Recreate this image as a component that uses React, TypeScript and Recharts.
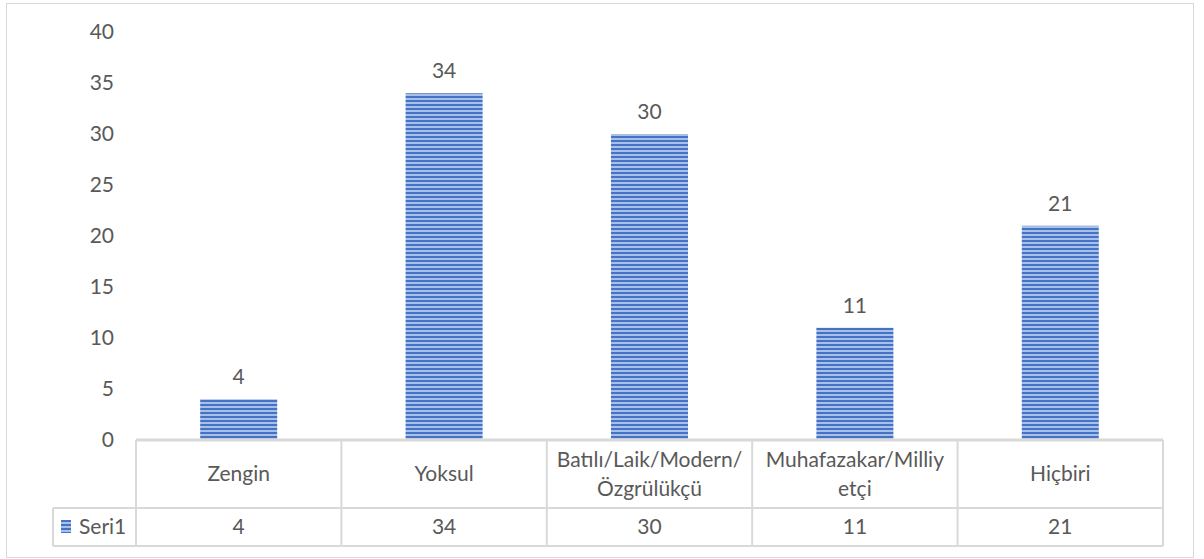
import { Bar, BarChart, LabelList, XAxis, YAxis } from "recharts";

const categories = ["Zengin", "Yoksul", "Batılı/Laik/Modern/Özgrülükçü", "Muhafazakar/Milliyetçi", "Hiçbiri"];
const headerLines = [["Zengin"], ["Yoksul"], ["Batılı/Laik/Modern/", "Özgrülükçü"], ["Muhafazakar/Milliy", "etçi"], ["Hiçbiri"]];
const seri1 = [4, 34, 30, 11, 21];
const seriesName = "Seri1";
const yTicks = [0, 5, 10, 15, 20, 25, 30, 35, 40];

const W = 1204;
const H = 559;
const PLOT_LEFT = 136;
const PLOT_RIGHT = 1163;
const COL_W = (PLOT_RIGHT - PLOT_LEFT) / categories.length;
const HEAD_H = 68;
const ROW_H = 38;
const LEGEND_LEFT = 53;
const TEXT = "#595959";
const GRID = "#d9d9d9";
const FONT = "Lato, 'Open Sans', sans-serif";
const FS = 21;

const data = categories.map((c, i) => ({ cat: c, Seri1: seri1[i] }));

function TableTick(props: any) {
  const { x, y, index } = props;
  const left = x - COL_W / 2;
  const right = x + COL_W / 2;
  const lines = headerLines[index] || [String(props.payload.value)];
  const headMid = y + HEAD_H / 2;
  return (
    <g>
      {index === 0 && (
        <>
          <line x1={left} y1={y} x2={left} y2={y + HEAD_H + ROW_H} stroke={GRID} strokeWidth={2} />
          <line x1={LEGEND_LEFT} y1={y + HEAD_H} x2={left} y2={y + HEAD_H} stroke={GRID} strokeWidth={2} />
          <line x1={LEGEND_LEFT} y1={y + HEAD_H + ROW_H} x2={left} y2={y + HEAD_H + ROW_H} stroke={GRID} strokeWidth={2} />
          <line x1={LEGEND_LEFT} y1={y + HEAD_H} x2={LEGEND_LEFT} y2={y + HEAD_H + ROW_H} stroke={GRID} strokeWidth={2} />
          <rect x={61} y={y + HEAD_H + 12} width={10} height={13} fill="url(#stripes)" />
          <text x={79} y={y + HEAD_H + ROW_H / 2} dy="0.35em" fill={TEXT} fontSize={FS} fontFamily={FONT}>
            {seriesName}
          </text>
        </>
      )}
      <line x1={right} y1={y} x2={right} y2={y + HEAD_H + ROW_H} stroke={GRID} strokeWidth={2} />
      <line x1={left} y1={y + HEAD_H} x2={right} y2={y + HEAD_H} stroke={GRID} strokeWidth={2} />
      <line x1={left} y1={y + HEAD_H + ROW_H} x2={right} y2={y + HEAD_H + ROW_H} stroke={GRID} strokeWidth={2} />
      {lines.map((t: string, i: number) => (
        <text
          key={i}
          x={x}
          y={headMid + (i - (lines.length - 1) / 2) * 29}
          dy="0.35em"
          textAnchor="middle"
          fill={TEXT}
          fontSize={FS}
          fontFamily={FONT}
        >
          {t}
        </text>
      ))}
      <text x={x} y={y + HEAD_H + ROW_H / 2} dy="0.35em" textAnchor="middle" fill={TEXT} fontSize={FS} fontFamily={FONT}>
        {seri1[index]}
      </text>
    </g>
  );
}

export default function App() {
  return (
    <div style={{ position: "absolute", left: 0, top: 0, width: W, height: H, background: "#fff" }}>
      <svg width={W} height={H} style={{ position: "absolute", left: 0, top: 0 }}>
        <rect x={6.5} y={3.5} width={1187} height={554} fill="#fff" stroke={GRID} strokeWidth={1} />
      </svg>
      <div style={{ position: "absolute", left: 0, top: 0 }}>
        <BarChart
          width={W}
          height={H}
          data={data}
          margin={{ top: 32, right: W - PLOT_RIGHT, bottom: 0, left: 12 }}
          barCategoryGap="31.25%"
        >
          <defs>
            <pattern id="stripes" width={8} height={4} patternUnits="userSpaceOnUse">
              <rect x={0} y={0} width={8} height={4} fill="#a8bfe8" />
              <rect x={0} y={0} width={8} height={2} fill="#4472c4" />
            </pattern>
          </defs>
          <YAxis
            type="number"
            domain={[0, 40]}
            ticks={yTicks}
            width={PLOT_LEFT - 12}
            axisLine={false}
            tickLine={false}
            tickMargin={16}
            tick={{ fill: TEXT, fontSize: FS, fontFamily: FONT }}
          />
          <XAxis
            dataKey="cat"
            height={H - 440}
            axisLine={{ stroke: GRID, strokeWidth: 3 }}
            tickLine={false}
            tickSize={0}
            tickMargin={0}
            interval={0}
            tick={<TableTick />}
          />
          <Bar dataKey="Seri1" fill="url(#stripes)" isAnimationActive={false}>
            <LabelList dataKey="Seri1" position="top" offset={15} fill={TEXT} fontSize={FS} fontFamily={FONT} />
          </Bar>
        </BarChart>
      </div>
    </div>
  );
}
